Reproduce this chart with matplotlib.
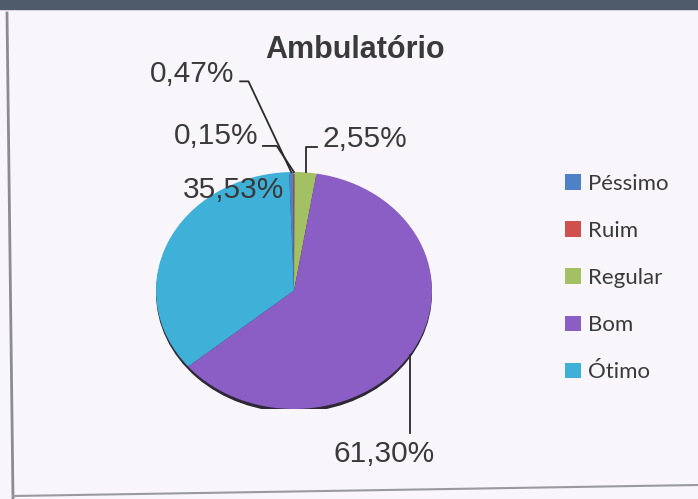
import numpy as np
import matplotlib.pyplot as plt
from matplotlib.patches import Ellipse, Rectangle
from matplotlib.lines import Line2D

# === Dados ===
categorias = ['Péssimo', 'Ruim', 'Regular', 'Bom', 'Ótimo']
valores = [0.47, 0.15, 2.55, 61.30, 35.53]
rotulos = ['0,47%', '0,15%', '2,55%', '61,30%', '35,53%']
cores = ['#4f81c8', '#d0504d', '#a3c062', '#8a5ec4', '#3fb0d8']

W, H = 698, 499
fig = plt.figure(figsize=(W / 100, H / 100), dpi=100, facecolor='#f8f6fa')


def fx(px):
    return px / W


def fy(py):
    return 1 - py / H


# === Moldura do scan ===
fig.patches.append(Rectangle((0, fy(9)), 1, 9 / H, transform=fig.transFigure,
                             color='#4f5a6b', zorder=0))
fig.lines.append(Line2D([fx(7), fx(13)], [fy(13), fy(499)], transform=fig.transFigure,
                        color='#8c8c90', lw=2))
fig.lines.append(Line2D([fx(13), fx(698)], [fy(496), fy(485)], transform=fig.transFigure,
                        color='#9a9a9e', lw=1.5))

# === Pizza ===
ax = fig.add_axes([fx(156), fy(409), 276 / W, 237 / H])
ax.add_patch(Ellipse((0, -0.022), 1.99, 2, color='#2e2836', zorder=0))
wedges, _ = ax.pie(valores, colors=cores, startangle=92, counterclock=False,
                   radius=1, wedgeprops=dict(linewidth=0))
ax.set_aspect('auto')
ax.set_xlim(-1, 1)
ax.set_ylim(-1, 1)
ax.axis('off')

# pontos médios na borda de cada fatia
cum = np.cumsum(valores) - np.array(valores) / 2
ang = np.deg2rad(92 - cum / sum(valores) * 360)
mx, my = np.cos(ang), np.sin(ang)

fonte = ['Liberation Sans', 'DejaVu Sans']
cor_txt = '#3a3a3a'
fs = 21.5
lw = 1.3

# 0,47%
ax.text(-0.435, 1.825, rotulos[0], ha='right', va='center', fontsize=fs,
        color=cor_txt, family=fonte)
ax.plot([-0.39, -0.33, mx[0]], [1.765, 1.765, my[0]], color='#2a2a2a', lw=lw, clip_on=False)

# 0,15%
ax.text(-0.26, 1.30, rotulos[1], ha='right', va='center', fontsize=fs,
        color=cor_txt, family=fonte)
ax.plot([-0.225, -0.125, mx[1]], [1.22, 1.22, my[1]], color='#2a2a2a', lw=lw, clip_on=False)

# 2,55%
ax.text(0.205, 1.28, rotulos[2], ha='left', va='center', fontsize=fs,
        color=cor_txt, family=fonte)
ax.plot([0.17, mx[2], mx[2]], [1.21, 1.21, my[2]], color='#2a2a2a', lw=lw, clip_on=False)

# 61,30%
ax.text(0.655, -1.38, rotulos[3], ha='center', va='center', fontsize=fs,
        color=cor_txt, family=fonte)
x61 = mx[3] - 0.03
ax.plot([x61, x61], [-1.20, -np.sqrt(1 - x61 ** 2)], color='#2a2a2a', lw=lw, clip_on=False)

# 35,53%
ax.text(-0.44, 0.85, rotulos[4], ha='center', va='center', fontsize=fs,
        color=cor_txt, family=fonte)

# === Título ===
fig.text(fx(355), fy(50), 'Ambulatório', ha='center', va='center', fontsize=22,
         fontweight='bold', color='#3a3a3a', family=fonte)

# === Legenda ===
fig.legend(wedges, categorias, loc='center left', bbox_to_anchor=(fx(565), fy(278)),
           frameon=False, labelspacing=1.22, handlelength=0.7,
           handleheight=0.7, handletextpad=0.35, borderpad=0, borderaxespad=0,
           prop={'family': ['Lato', 'DejaVu Sans'], 'size': 16},
           labelcolor='#3a3a3a')

fig.savefig('out.png', dpi=100, facecolor=fig.get_facecolor())
